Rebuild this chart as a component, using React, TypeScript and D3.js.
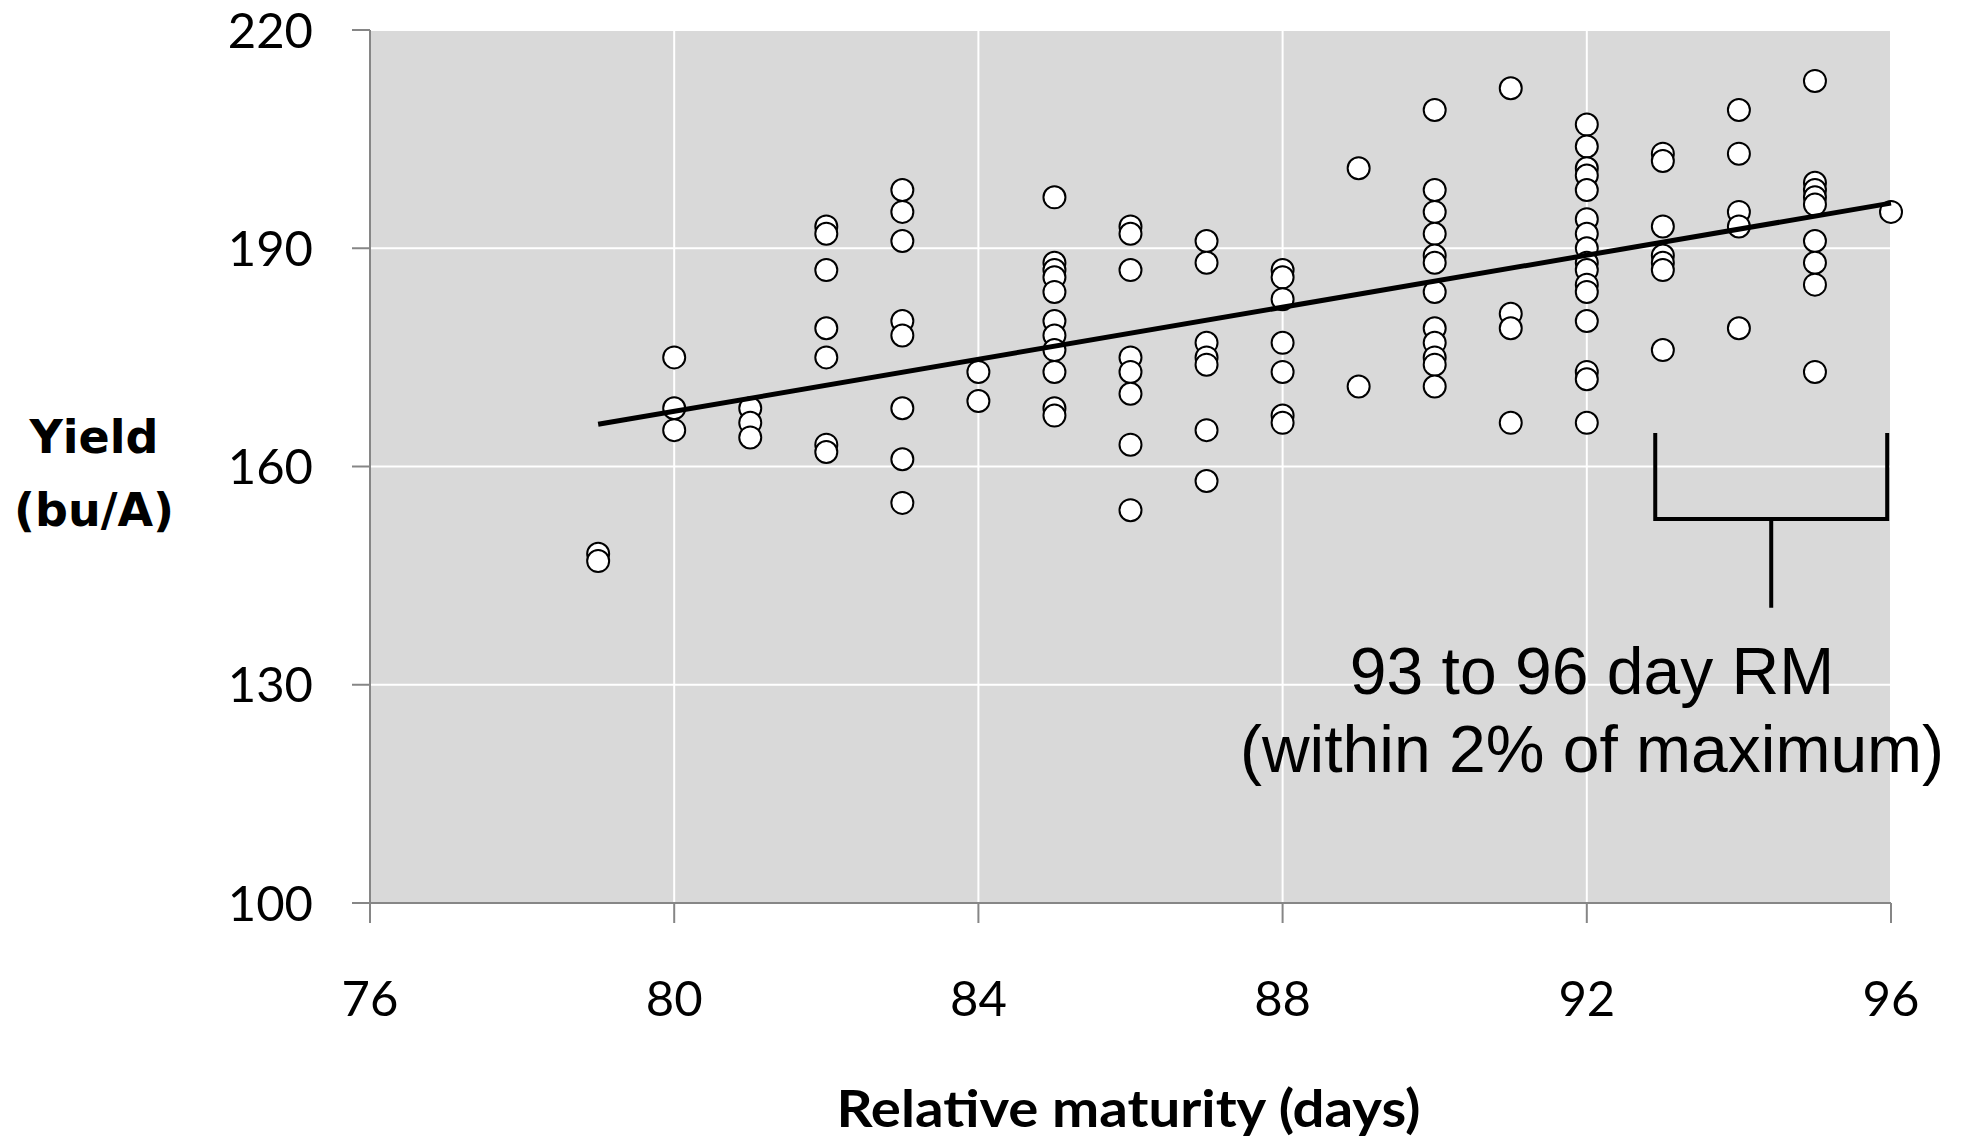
import React from "react";
import * as d3 from "d3";

// ---- Data ----
const maturities = [79, 80, 81, 82, 83, 84, 85, 86, 87, 88, 89, 90, 91, 92, 93, 94, 95, 96];
const yieldsByMaturity: number[][] = [
  [148, 147],
  [175, 168, 165],
  [168, 166, 164],
  [193, 192, 187, 179, 175, 163, 162],
  [198, 195, 191, 180, 178, 168, 161, 155],
  [173, 169],
  [197, 188, 187, 186, 184, 180, 178, 176, 173, 168, 167],
  [193, 192, 187, 175, 173, 170, 163, 154],
  [191, 188, 177, 175, 174, 165, 158],
  [187, 186, 183, 177, 173, 167, 166],
  [201, 171],
  [209, 198, 195, 192, 189, 188, 184, 179, 177, 175, 174, 171],
  [212, 181, 179, 166],
  [207, 204, 201, 200, 198, 194, 192, 190, 188, 187, 185, 184, 180, 173, 172, 166],
  [203, 202, 193, 189, 188, 187, 176],
  [209, 203, 195, 193, 179],
  [213, 199, 198, 197, 196, 191, 188, 185, 173],
  [195],
];
const trendX = [79, 96];
const trendY = [165.8, 196.2];
const xTicks = [76, 80, 84, 88, 92, 96];
const yTicks = [100, 130, 160, 190, 220];
const xTitle = "Relative maturity (days)";
const yTitleLines = ["Yield", "(bu/A)"];
const noteLines = ["93 to 96 day RM", "(within 2% of maximum)"];
const bracketX = [92.9, 95.95];
const bracketY = [164.6, 152.8, 140.6];

const W = 1969;
const H = 1141;
const left = 370;
const right = 1891;
const top = 30;
const bottom = 903;

export default function App() {
  const x = d3.scaleLinear().domain([76, 96]).range([left, right]);
  const y = d3.scaleLinear().domain([100, 220]).range([bottom, top]);
  const points = maturities.flatMap((m, i) => yieldsByMaturity[i].map((v) => ({ m, v })));
  const line = d3.line<[number, number]>().x((d) => x(d[0])).y((d) => y(d[1]));
  const trend: [number, number][] = trendX.map((t, i) => [t, trendY[i]]);
  const bx0 = x(bracketX[0]);
  const bx1 = x(bracketX[1]);
  const bmid = (bx0 + bx1) / 2;
  const axisColor = "#868686";
  const tickFont = "Lato, 'Open Sans', sans-serif";

  return (
    <svg width={W} height={H} style={{ position: "absolute", left: 0, top: 0, background: "#fff" }}>
      <rect x={left} y={top} width={right - left} height={bottom - top} fill="#d9d9d9" />
      {/* gridlines */}
      {xTicks.filter((t) => t !== 76).map((t) => (
        <line key={"gx" + t} x1={x(t)} x2={x(t)} y1={top} y2={bottom} stroke="#fff" strokeWidth={2} />
      ))}
      {yTicks.filter((t) => t !== 100).map((t) => (
        <line key={"gy" + t} x1={left} x2={right} y1={y(t)} y2={y(t)} stroke="#fff" strokeWidth={2} />
      ))}
      {/* axes */}
      <line x1={left} x2={left} y1={top} y2={bottom + 20} stroke={axisColor} strokeWidth={2} />
      <line x1={left - 18} x2={right} y1={bottom} y2={bottom} stroke={axisColor} strokeWidth={2} />
      {yTicks.map((t) => (
        <line key={"ty" + t} x1={left - 18} x2={left} y1={y(t)} y2={y(t)} stroke={axisColor} strokeWidth={2} />
      ))}
      {xTicks.map((t) => (
        <line key={"tx" + t} x1={x(t)} x2={x(t)} y1={bottom} y2={bottom + 20} stroke={axisColor} strokeWidth={2} />
      ))}
      {yTicks.map((t) => (
        <text key={"ly" + t} x={313} y={y(t)} dy="0.36em" textAnchor="end" fontFamily={tickFont} fontSize={49} fill="#000">
          {t}
        </text>
      ))}
      {xTicks.map((t) => (
        <text key={"lx" + t} x={x(t)} y={998} dy="0.36em" textAnchor="middle" fontFamily={tickFont} fontSize={49} fill="#000">
          {t}
        </text>
      ))}
      {/* points */}
      {points.map((p, i) => (
        <circle key={i} cx={x(p.m)} cy={y(p.v)} r={11} fill="#fff" stroke="#000" strokeWidth={2} />
      ))}
      {/* trend line */}
      <path d={line(trend) || ""} fill="none" stroke="#000" strokeWidth={5} />
      {/* bracket annotation */}
      <path
        d={`M${bx0},${y(bracketY[0])}V${y(bracketY[1])}H${bx1}V${y(bracketY[0])}M${bmid},${y(bracketY[1])}V${y(bracketY[2])}`}
        fill="none"
        stroke="#000"
        strokeWidth={4}
      />
      {noteLines.map((s, i) => (
        <text key={"n" + i} x={1592} y={694 + i * 78} textAnchor="middle" fontFamily="'Liberation Sans', Arial, sans-serif" fontSize={66} fill="#000">
          {s}
        </text>
      ))}
      {/* titles */}
      <text x={(left + right) / 2 - 2} y={1108} dy="0.36em" textAnchor="middle" fontFamily={tickFont} fontWeight="bold" fontSize={52} textLength={584} lengthAdjust="spacingAndGlyphs" fill="#000">
        {xTitle}
      </text>
      {yTitleLines.map((s, i) => (
        <text key={"yt" + i} x={94} y={436 + i * 73} dy="0.36em" textAnchor="middle" fontFamily="'DejaVu Sans', Verdana, sans-serif" fontWeight="bold" fontSize={46} fill="#000">
          {s}
        </text>
      ))}
    </svg>
  );
}
